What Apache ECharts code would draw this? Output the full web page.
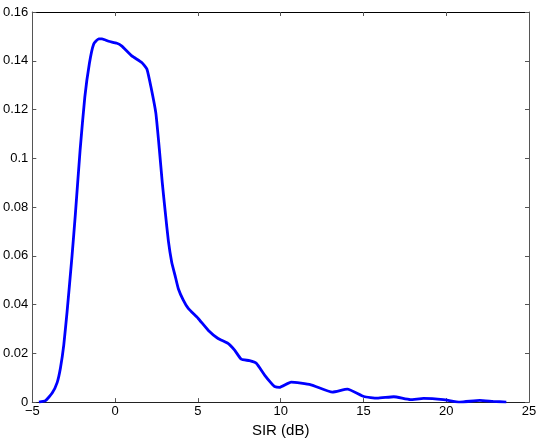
<!DOCTYPE html>
<html>
<head>
<meta charset="utf-8">
<script src="https://cdn.jsdelivr.net/npm/echarts@6/dist/echarts.min.js"></script>
<style>
html,body{margin:0;padding:0;background:#fff;}
#main{width:540px;height:443px;}
</style>
</head>
<body>
<div id="main"></div>
<script>
// SIR (dB) on x, density on y
var sir_x = [-4.6,-4.2,-3.8,-3.5,-3.3,-3.1,-2.9,-2.6,-2.4,-2.11,-1.83,-1.55,-1.29,-0.99,-0.79,-0.39,0.11,0.41,1.01,1.61,1.92,2.18,2.46,2.67,2.85,3.03,3.22,3.42,3.62,3.82,4.12,4.42,5.02,5.62,6.22,6.82,7.22,7.62,8.12,8.53,9.03,9.43,9.63,9.93,10.63,11.83,13.13,14.03,15.03,15.83,16.83,17.83,18.63,19.83,20.83,22.03,22.83,23.63];
var pdf_y = [0,0.0006,0.0037,0.008,0.014,0.0234,0.037,0.06,0.077,0.1036,0.125,0.139,0.1469,0.149,0.149,0.148,0.1472,0.146,0.142,0.1393,0.1366,0.1288,0.1186,0.104,0.09,0.078,0.066,0.0574,0.052,0.0465,0.0418,0.0384,0.0343,0.0295,0.0261,0.0241,0.0213,0.0176,0.017,0.0159,0.0111,0.0078,0.0064,0.006,0.0082,0.0071,0.0041,0.0053,0.0023,0.0016,0.0022,0.001,0.0015,0.001,0,0.0007,0.0003,0];

function line_data(xs,ys){
	var arr = [];
	for(var i = 0; i < xs.length; i++){
		arr.push([xs[i],ys[i]]);
	}
	return arr;
}

var font = 'Liberation Sans, Arial, sans-serif';
var axisCol = '#555';

var myChart = echarts.init(document.getElementById('main'));

var option = {
	animation:false,
	grid:{left:30,right:11,top:12,bottom:39,containLabel:false},
	xAxis:[{
		type:'value',min:-5,max:25,interval:5,
		name:'SIR (dB)',nameLocation:'middle',nameGap:20,
		nameTextStyle:{color:'#000',fontSize:15,fontFamily:font},
		axisLine:{show:true,onZero:false,lineStyle:{color:'#222',width:1}},
		axisTick:{inside:true,length:4,lineStyle:{color:axisCol}},
		axisLabel:{color:'#000',fontSize:13,fontFamily:font,margin:3,
			formatter:function(v){return String(v).replace('-','\u2212');}},
		splitLine:{show:false}
	},{
		type:'value',position:'top',min:-5,max:25,interval:5,
		axisLine:{show:true,onZero:false,lineStyle:{color:'#000',width:1}},
		axisTick:{inside:true,length:4,lineStyle:{color:axisCol}},
		axisLabel:{show:false},splitLine:{show:false}
	}],
	yAxis:[{
		type:'value',min:0,max:0.16,interval:0.02,
		axisLine:{show:true,onZero:false,lineStyle:{color:axisCol,width:1}},
		axisTick:{inside:true,length:4,lineStyle:{color:axisCol}},
		axisLabel:{color:'#000',fontSize:13,fontFamily:font,margin:4},
		splitLine:{show:false}
	},{
		type:'value',position:'right',min:0,max:0.16,interval:0.02,
		axisLine:{show:true,onZero:false,lineStyle:{color:axisCol,width:1}},
		axisTick:{inside:true,length:4,lineStyle:{color:axisCol}},
		axisLabel:{show:false},splitLine:{show:false}
	}],
	series:[{
		type:'line',
		data:line_data(sir_x,pdf_y),
		smooth:0.15,
		showSymbol:false,
		lineStyle:{color:'#0000ff',width:2.8}
	}]
};

myChart.setOption(option);
</script>
</body>
</html>
